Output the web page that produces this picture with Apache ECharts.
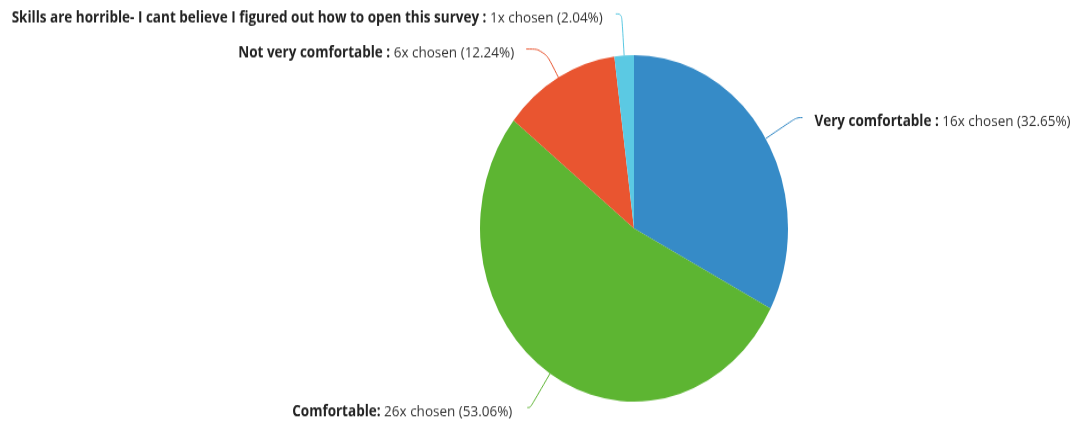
<!DOCTYPE html>
<html>
<head>
<meta charset="utf-8">
<script src="https://cdn.jsdelivr.net/npm/echarts@6/dist/echarts.min.js"></script>
<style>
  html, body { margin: 0; padding: 0; background: #ffffff; overflow: hidden; }
  #wrap { width: 1084px; height: 423px; overflow: hidden; }
  /* the chart is drawn slightly taller than wide */
  #chart { width: 1084px; height: 376px; transform: scaleY(1.125); transform-origin: 0 0; }
</style>
</head>
<body>
<div id="wrap"><div id="chart"></div></div>
<script>
// Survey answers: how comfortable respondents feel with their skills
const categories = [
  'Very comfortable',
  'Comfortable',
  'Not very comfortable',
  'Skills are horrible- I cant believe I figured out how to open this survey'
];
const labelHeads = [
  'Very comfortable :',
  'Comfortable:',
  'Not very comfortable :',
  'Skills are horrible- I cant believe I figured out how to open this survey :'
];
const counts = [16, 26, 6, 1];
const colors = ['#368bc7', '#5db532', '#e95530', '#5bc9e3'];

// leader-line shape per slice
const lineLength = [36, 36, 29, 37];
const lineLength2 = [6, 3, 18, 6];
const textGap = [12, 15, 12, 13];

const total = counts.reduce((a, b) => a + b, 0);

const chart = echarts.init(document.getElementById('chart'), null, { renderer: 'canvas' });

chart.setOption({
  animation: false,
  backgroundColor: '#ffffff',
  series: [{
    type: 'pie',
    center: [634, 203],
    radius: 154,
    startAngle: 90,
    clockwise: true,
    avoidLabelOverlap: false,
    itemStyle: { borderWidth: 0 },
    label: {
      show: true,
      position: 'outside',
      fontFamily: 'Open Sans',
      fontSize: 13.5,
      color: '#333333',
      bleedMargin: 0,
      padding: [7, 0, 0, 0],
      formatter: function (p) {
        const i = p.dataIndex;
        const pct = (counts[i] / total * 100).toFixed(2);
        return '{h|' + labelHeads[i] + '} {v|' + counts[i] + 'x chosen (' + pct + '%)}';
      },
      rich: {
        h: { fontFamily: 'Open Sans', fontSize: 13.5, fontWeight: 'bold', color: '#222222' },
        v: { fontFamily: 'Open Sans', fontSize: 13.5, color: '#333333' }
      }
    },
    labelLine: {
      show: true,
      smooth: 0.4,
      lineStyle: { width: 1 }
    },
    data: categories.map((name, i) => ({
      name: name,
      value: counts[i],
      itemStyle: { color: colors[i] },
      label: { distanceToLabelLine: textGap[i] },
      labelLine: { length: lineLength[i], length2: lineLength2[i] }
    }))
  }]
});
</script>
</body>
</html>
